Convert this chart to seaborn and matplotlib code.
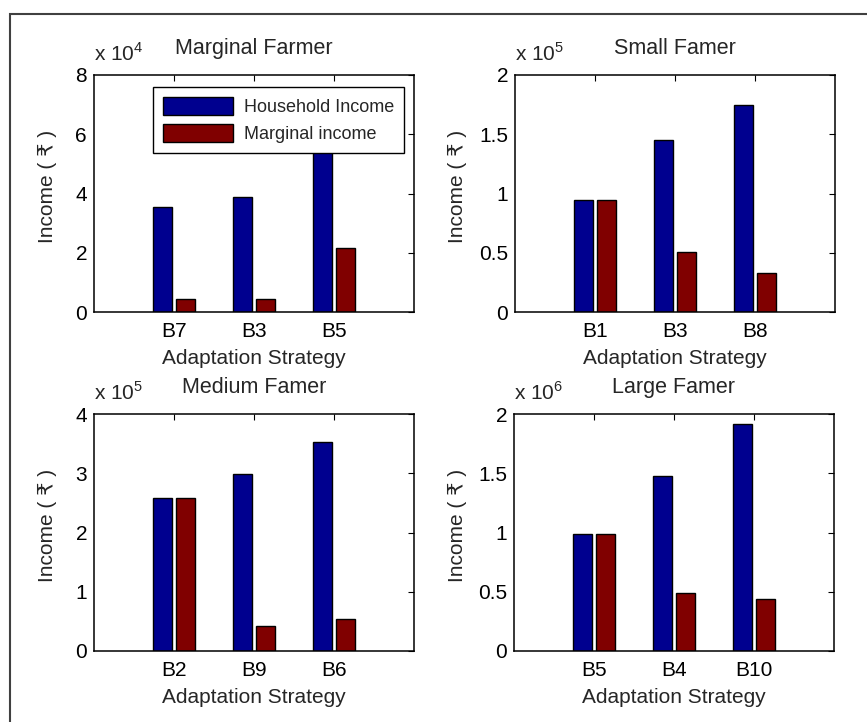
import numpy as np
import pandas as pd
import matplotlib
matplotlib.use("Agg")
import matplotlib.pyplot as plt
from matplotlib.patches import Rectangle
from matplotlib.ticker import FuncFormatter
import seaborn as sns

sns.set_style("white")
plt.rcParams['font.family'] = ['Liberation Sans', 'DejaVu Sans']
plt.rcParams['mathtext.fontset'] = 'custom'
plt.rcParams['mathtext.rm'] = 'Liberation Sans'

# data (rupees)
titles = ['Marginal Farmer', 'Small Famer', 'Medium Famer', 'Large Famer']
strategies = [['B7', 'B3', 'B5'], ['B1', 'B3', 'B8'], ['B2', 'B9', 'B6'], ['B5', 'B4', 'B10']]
household = [[3.55e4, 3.88e4, 5.8e4],
             [0.945e5, 1.45e5, 1.745e5],
             [2.58e5, 2.99e5, 3.53e5],
             [0.99e6, 1.48e6, 1.915e6]]
marginal = [[0.43e4, 0.43e4, 2.17e4],
            [0.945e5, 0.51e5, 0.325e5],
            [2.58e5, 0.43e5, 0.545e5],
            [0.99e6, 0.49e6, 0.44e6]]
exponents = [4, 5, 5, 6]
y_tops = [8, 2, 4, 2]
y_steps = [2, 0.5, 1, 0.5]
series = ['Household Income', 'Marginal income']
colors = ['#00008F', '#800000']

fs = 15
fig = plt.figure(figsize=(8.67, 7.22), dpi=100)
W, H = 867, 722
boxes = [(94, 75), (515, 75), (94, 414), (514, 414)]  # left, top in px
aw, ah = 320, 237
label_x = [-0.116, -0.15, -0.116, -0.147]

for i in range(4):
    left, top = boxes[i]
    ax = fig.add_axes([left / W, 1 - (top + ah) / H, aw / W, ah / H])
    df = pd.DataFrame({
        'Strategy': strategies[i] * 2,
        'Income': household[i] + marginal[i],
        'Series': [series[0]] * 3 + [series[1]] * 3,
    })
    sns.barplot(data=df, x='Strategy', y='Income', hue='Series', hue_order=series,
                order=strategies[i], palette=colors, width=0.58, gap=0.2,
                edgecolor='black', linewidth=1, saturation=1, ax=ax,
                legend=(i == 0), errorbar=None)
    scale = 10 ** exponents[i]
    ax.set_ylim(0, y_tops[i] * scale)
    ax.set_xlim(-1, 3)
    ax.set_yticks(np.arange(0, y_tops[i] + 1e-9, y_steps[i]) * scale)
    ax.yaxis.set_major_formatter(FuncFormatter(lambda v, p, s=scale: f'{v / s:g}'))
    ax.tick_params(direction='in', top=True, right=True, length=4, width=0.8,
                   labelsize=fs, pad=5, colors='black')
    ax.tick_params(axis='x', pad=7)
    for sp in ax.spines.values():
        sp.set_color('black')
        sp.set_linewidth(1.1)
    ax.set_xlabel('Adaptation Strategy', fontsize=fs, labelpad=6)
    ax.set_ylabel('Income ( \u20b9 )', fontsize=fs)
    ax.yaxis.set_label_coords(label_x[i], 0.53)
    ax.set_title(titles[i], fontsize=15.5, pad=15)
    ax.text(0, 1.045, 'x 10$^{%d}$' % exponents[i], transform=ax.transAxes,
            ha='left', va='bottom', fontsize=fs)
    if i == 0:
        leg = ax.legend(loc='upper left', bbox_to_anchor=(0.184, 0.949), borderaxespad=0,
                        fontsize=13, handlelength=3.9, handleheight=1.15,
                        handletextpad=0.6, labelspacing=0.45, borderpad=0.55,
                        fancybox=False, frameon=True, framealpha=1)
        leg.get_frame().set_edgecolor('black')
        leg.get_frame().set_linewidth(1)
        leg.set_zorder(10)

border = Rectangle((10 / W, -0.2), 1.5, 1 - 14 / H + 0.2, transform=fig.transFigure,
                   fill=False, edgecolor='#404040', linewidth=1.5, clip_on=False)
fig.add_artist(border)

fig.savefig('out.png', dpi=100)
